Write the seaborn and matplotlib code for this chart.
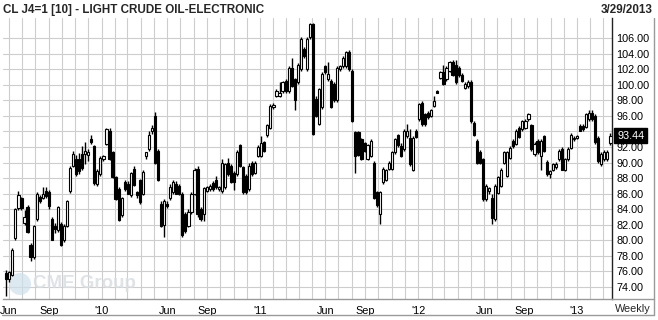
import numpy as np
import pandas as pd
import matplotlib
matplotlib.use("Agg")
import matplotlib.pyplot as plt
import matplotlib.dates as mdates
import matplotlib.transforms as mtransforms
from matplotlib.lines import Line2D
from matplotlib.patches import Ellipse
import seaborn as sns

# ---------------- data (weekly OHLC) ----------------
first_week = "2009-05-26"
opens = [75.8, 75.0, 75.6, 80.3, 84.1, 85.4, 82.2, 84.3, 79.4, 77.8,
         82.7, 85.6, 85.5, 86.4, 86.2, 82.8, 81.9, 81.3, 82.1, 80.0,
         81.9, 86.3, 89.6, 90.4, 90.4, 91.1, 91.1, 91.0, 93.0, 92.1,
         87.2, 88.5, 90.4, 92.4, 94.1, 91.3, 88.1, 86.6, 83.2, 87.5,
         87.3, 85.8, 89.2, 86.2, 87.7, 86.0, 90.8, 91.7, 94.0, 96.0,
         91.5, 84.7, 82.0, 84.7, 85.4, 86.2, 87.3, 87.0, 86.0, 83.4,
         81.9, 83.6, 86.0, 89.2, 84.0, 83.4, 86.4, 86.6, 87.4, 87.7,
         86.6, 86.3, 86.8, 90.0, 89.6, 88.7, 88.5, 92.2, 89.4, 88.3,
         86.6, 90.0, 88.7, 90.9, 90.9, 92.6, 93.5, 94.5, 97.1, 98.6,
         98.6, 99.2, 100.5, 99.2, 102.2, 100.7, 100.3, 102.0, 104.6, 102.0,
         106.1, 107.8, 98.2, 95.0, 97.1, 102.4, 100.7, 100.5, 100.1, 98.0,
         102.0, 102.4, 102.4, 104.2, 101.8, 93.9, 93.9, 93.0, 92.5, 90.5,
         90.9, 90.0, 86.2, 83.4, 87.5, 87.8, 89.2, 89.2, 91.3, 93.5,
         92.1, 91.7, 93.4, 93.2, 89.1, 94.1, 95.6, 97.7, 96.2, 96.4,
         96.0, 97.3, 99.2, 100.9, 101.6, 100.7, 101.8, 102.9, 102.6, 102.2,
         101.3, 99.6, 99.8, 100.4, 95.1, 92.8, 91.4, 90.4, 85.3, 86.4,
         85.5, 82.7, 86.1, 87.0, 90.0, 88.3, 90.6, 92.8, 92.4, 94.5,
         94.3, 94.5, 95.6, 94.8, 91.1, 92.8, 90.8, 93.4, 90.1, 88.5,
         89.1, 89.4, 90.4, 91.8, 89.1, 90.4, 91.9, 93.0, 93.2, 94.7,
         94.7, 94.6, 95.6, 96.4, 96.0, 93.2, 89.8, 90.4, 90.4, 92.5]
highs = [76.2, 76.1, 79.0, 84.2, 86.4, 85.6, 83.9, 84.5, 79.6, 82.0,
         86.2, 85.8, 86.9, 86.8, 86.5, 83.0, 82.2, 84.4, 82.3, 82.1,
         85.2, 89.5, 91.5, 91.0, 91.2, 92.1, 92.6, 91.8, 93.6, 92.3,
         89.2, 90.8, 91.0, 94.4, 94.4, 91.5, 88.3, 86.8, 85.6, 87.8,
         87.6, 88.8, 89.6, 86.4, 87.9, 89.0, 91.4, 94.0, 94.8, 96.5,
         91.7, 85.0, 85.3, 85.0, 87.2, 87.8, 87.6, 87.2, 86.2, 83.6,
         84.0, 86.2, 89.3, 89.5, 84.3, 86.9, 87.0, 87.2, 87.6, 88.3,
         87.0, 90.5, 90.0, 90.6, 89.8, 88.9, 91.6, 92.4, 89.6, 88.5,
         90.0, 90.2, 90.2, 92.2, 93.4, 92.8, 95.0, 97.5, 97.6, 99.4,
         100.3, 100.5, 100.7, 102.4, 103.4, 100.9, 102.8, 106.1, 104.9, 106.1,
         108.0, 108.0, 98.5, 99.6, 101.6, 102.6, 102.9, 100.7, 100.3, 102.4,
         102.6, 103.7, 104.4, 104.5, 102.0, 94.1, 94.1, 93.2, 92.7, 92.4,
         93.0, 90.2, 86.4, 86.4, 89.4, 89.2, 90.2, 91.5, 93.2, 93.7,
         92.5, 94.3, 94.9, 94.3, 93.4, 94.3, 97.7, 97.9, 96.4, 96.6,
         96.9, 98.5, 99.3, 101.8, 102.6, 102.4, 103.1, 103.2, 103.2, 102.4,
         101.5, 100.3, 100.6, 100.6, 95.3, 93.0, 91.6, 90.6, 87.2, 86.8,
         86.0, 87.2, 88.3, 89.3, 91.5, 91.5, 92.1, 93.0, 94.3, 94.7,
         95.5, 95.6, 96.4, 95.0, 92.6, 93.0, 93.0, 93.6, 90.3, 89.1,
         90.0, 90.1, 91.7, 92.0, 90.6, 92.0, 93.8, 93.4, 93.6, 95.0,
         94.9, 96.4, 96.7, 96.8, 96.2, 93.4, 91.3, 91.6, 91.6, 93.8]
lows = [72.9, 74.6, 75.4, 80.0, 83.9, 83.9, 82.0, 81.0, 77.3, 77.6,
        82.5, 84.8, 85.3, 85.5, 84.0, 80.0, 81.0, 81.1, 79.3, 79.8,
        81.7, 86.1, 89.4, 88.3, 88.5, 89.0, 89.8, 90.2, 92.4, 87.1,
        87.0, 88.3, 90.2, 92.2, 90.3, 88.0, 85.2, 82.5, 83.0, 86.4,
        85.9, 85.6, 87.0, 85.5, 84.7, 85.8, 90.5, 91.5, 93.7, 89.8,
        87.6, 81.7, 80.4, 84.2, 85.2, 86.0, 85.9, 85.8, 80.4, 81.0,
        81.7, 83.4, 85.8, 83.0, 82.5, 82.5, 86.2, 86.3, 86.4, 86.6,
        86.3, 86.1, 86.6, 88.3, 87.4, 86.5, 88.3, 89.4, 86.0, 86.0,
        86.4, 88.3, 88.5, 90.7, 90.7, 91.3, 93.3, 94.3, 96.9, 98.4,
        98.4, 99.0, 99.0, 99.0, 99.7, 96.7, 100.1, 101.8, 103.5, 101.8,
        105.9, 93.5, 95.8, 94.8, 96.9, 101.4, 100.5, 97.0, 97.8, 97.8,
        101.8, 102.2, 102.2, 101.8, 95.2, 88.7, 90.8, 90.3, 91.3, 90.3,
        90.7, 85.3, 84.3, 82.1, 87.3, 87.6, 89.0, 89.0, 91.1, 92.0,
        90.7, 91.5, 93.2, 89.6, 88.9, 93.1, 95.4, 94.7, 94.7, 95.6,
        95.8, 97.1, 98.9, 100.7, 100.0, 100.5, 101.6, 101.1, 100.1, 101.0,
        100.3, 99.4, 99.6, 95.1, 93.4, 89.8, 89.8, 85.1, 85.1, 86.0,
        82.1, 82.5, 85.9, 86.8, 89.8, 88.1, 90.4, 91.9, 92.2, 93.1,
        94.1, 94.3, 95.4, 91.5, 90.9, 91.1, 89.1, 91.3, 88.3, 88.0,
        88.9, 89.2, 90.2, 89.0, 88.9, 90.2, 91.7, 92.8, 93.0, 94.0,
        94.1, 94.4, 95.4, 95.4, 92.4, 90.0, 89.6, 90.2, 90.2, 92.3]
closes = [75.0, 75.9, 78.8, 84.0, 85.8, 84.1, 83.0, 81.1, 77.8, 81.8,
          86.0, 85.1, 85.9, 85.7, 84.4, 80.1, 81.4, 84.3, 79.4, 81.9,
          85.1, 89.3, 91.1, 88.5, 88.9, 89.3, 91.5, 91.4, 92.6, 87.4,
          88.9, 90.6, 90.9, 94.3, 90.4, 88.1, 85.3, 82.6, 85.4, 86.6,
          86.0, 88.6, 87.1, 85.8, 84.9, 88.8, 91.3, 93.6, 94.5, 90.0,
          87.8, 81.9, 85.1, 84.4, 86.9, 87.5, 86.0, 86.0, 80.7, 81.2,
          83.6, 86.0, 89.0, 83.4, 82.8, 86.7, 86.8, 87.0, 86.6, 86.8,
          86.8, 90.0, 89.8, 88.5, 87.5, 87.5, 91.4, 89.6, 86.2, 86.2,
          89.6, 88.5, 90.0, 92.0, 92.5, 91.5, 94.8, 97.3, 97.4, 99.2,
          99.0, 100.3, 99.2, 102.2, 99.9, 98.0, 102.6, 105.9, 103.7, 105.9,
          107.8, 93.7, 96.0, 99.4, 101.4, 101.6, 101.4, 97.2, 98.0, 102.2,
          102.4, 103.5, 104.2, 102.0, 95.4, 90.9, 91.0, 90.5, 91.5, 92.2,
          92.8, 85.5, 84.5, 86.2, 89.2, 89.0, 90.0, 91.3, 93.0, 92.2,
          90.9, 94.1, 94.0, 89.8, 93.2, 93.3, 97.5, 94.9, 94.9, 95.8,
          96.8, 97.9, 99.0, 101.6, 100.1, 102.2, 102.9, 101.3, 100.3, 101.2,
          100.5, 100.1, 100.4, 95.3, 93.6, 90.0, 90.0, 85.3, 87.0, 86.7,
          82.9, 87.0, 88.1, 89.1, 91.3, 91.3, 91.9, 92.1, 94.1, 93.3,
          95.3, 95.4, 96.2, 91.7, 92.4, 91.3, 92.8, 91.5, 88.5, 88.9,
          89.8, 89.8, 91.5, 89.1, 90.4, 91.8, 93.6, 93.2, 93.4, 94.1,
          94.3, 96.2, 96.4, 95.6, 92.6, 90.2, 91.1, 91.4, 91.4, 93.44]

title = "CL J4=1 [10] - LIGHT CRUDE OIL-ELECTRONIC"
as_of = "3/29/2013"
period = "Weekly"
last_label = "93.44"
watermark = "CME Group"
month_tick_dates = ["2009-06-01", "2009-09-01", "2010-01-01", "2010-06-01",
                    "2010-09-01", "2011-01-01", "2011-06-01", "2011-09-01",
                    "2012-01-01", "2012-06-01", "2012-09-01", "2013-01-01"]
month_tick_labels = ["Jun", "Sep", "'10", "Jun", "Sep", "'11",
                     "Jun", "Sep", "'12", "Jun", "Sep", "'13"]
price_ticks = list(range(74, 108, 2))

# ---------------- frame ----------------
df = pd.DataFrame({"date": pd.date_range(first_week, periods=len(closes), freq="7D"),
                   "open": opens, "high": highs, "low": lows, "close": closes})
df["x"] = mdates.date2num(df["date"])
df["up"] = df["close"] >= df["open"]
df["bottom"] = df[["open", "close"]].min(axis=1)
df["height"] = (df["close"] - df["open"]).abs().clip(lower=0.12)

sns.set_theme(style="white")
plt.rcParams["font.family"] = ["Liberation Sans", "DejaVu Sans"]

W, H = 658, 320
fig = plt.figure(figsize=(W / 100, H / 100), dpi=100)
fig.patch.set_facecolor("white")
ax = fig.add_axes([3 / W, (H - 299) / H, 609 / W, 281 / H])
ax.set_facecolor("white")

PX_PER_DAY = 0.4337
x_ref = mdates.date2num(pd.Timestamp("2011-01-01"))
ax.set_xlim(x_ref - 257 / PX_PER_DAY, x_ref + 352 / PX_PER_DAY)
ax.set_ylim(72.46, 108.58)

grid_c = "#cdcdcd"
ax.set_axisbelow(True)
ax.set_yticks(price_ticks)
# the last-price box covers the label of the tick right under it
last_close = closes[-1]
ax.set_yticklabels(["" if abs(t - last_close) < 1.2 else f"{t:.2f}" for t in price_ticks])
ax.yaxis.tick_right()
ax.tick_params(axis="y", length=0, pad=3, labelsize=7.8, labelcolor="black")
ax.grid(axis="y", color=grid_c, lw=0.8)

ax.xaxis.set_minor_locator(mdates.MonthLocator())
ax.set_xticks(mdates.date2num(pd.to_datetime(month_tick_dates)))
ax.set_xticklabels(month_tick_labels)
ax.tick_params(axis="x", which="both", length=0, pad=5, labelsize=7.8, labelcolor="black")
ax.grid(axis="x", which="both", color=grid_c, lw=0.8)

for s in ["top", "left"]:
    ax.spines[s].set_visible(False)
ax.spines["right"].set_color("#222222")
ax.spines["right"].set_linewidth(1.0)
ax.spines["bottom"].set_color("#9a9a9a")
ax.spines["bottom"].set_linewidth(1.0)

# watermark (behind candles)
ax.add_patch(Ellipse((20 / W, 1 - 284 / H), 22 / W, 22 / H, transform=fig.transFigure,
                     facecolor="#cfe0ec", edgecolor="none", alpha=0.7, zorder=1))
ax.text(33 / W, 1 - 284 / H, watermark, transform=fig.transFigure, fontsize=13.5,
        fontweight="bold", color="#d9dee2", alpha=0.85, va="center", ha="left", zorder=1)

# candles
ax.vlines(df["x"], df["low"], df["high"], color="black", lw=1.0, zorder=2)
ax.bar(df["x"], df["height"], bottom=df["bottom"], width=5.0,
       color=np.where(df["up"], "white", "black"), edgecolor="black",
       linewidth=0.8, zorder=3, align="center")

# last price box
trans = mtransforms.blended_transform_factory(ax.transAxes, ax.transData)
ax.text(1.0 + 5 / 609, last_close, last_label, transform=trans, ha="left",
        va="center", fontsize=7.8, color="white", zorder=6, clip_on=False,
        bbox=dict(boxstyle="square,pad=0.25", fc="black", ec="black"))

# outer frame pieces
fl = dict(transform=fig.transFigure, color="#9a9a9a", lw=1.0)
fig.add_artist(Line2D([612 / W, 654 / W], [1 - 299 / H, 1 - 299 / H], **fl))
fig.add_artist(Line2D([2 / W, 654 / W], [1 - 315 / H, 1 - 315 / H], **fl))
fig.add_artist(Line2D([654 / W, 654 / W], [1 - 18 / H, 1 - 315 / H], **fl))

fig.text(3 / W, 1 - 10 / H, title, fontsize=8.4, fontweight="bold", ha="left", va="center")
fig.text(653 / W, 1 - 10 / H, as_of, fontsize=8.4, fontweight="bold", ha="right", va="center")
fig.text(651 / W, 1 - 309 / H, period, fontsize=7.8, ha="right", va="center")

fig.savefig("out.png", dpi=100, facecolor="white")
